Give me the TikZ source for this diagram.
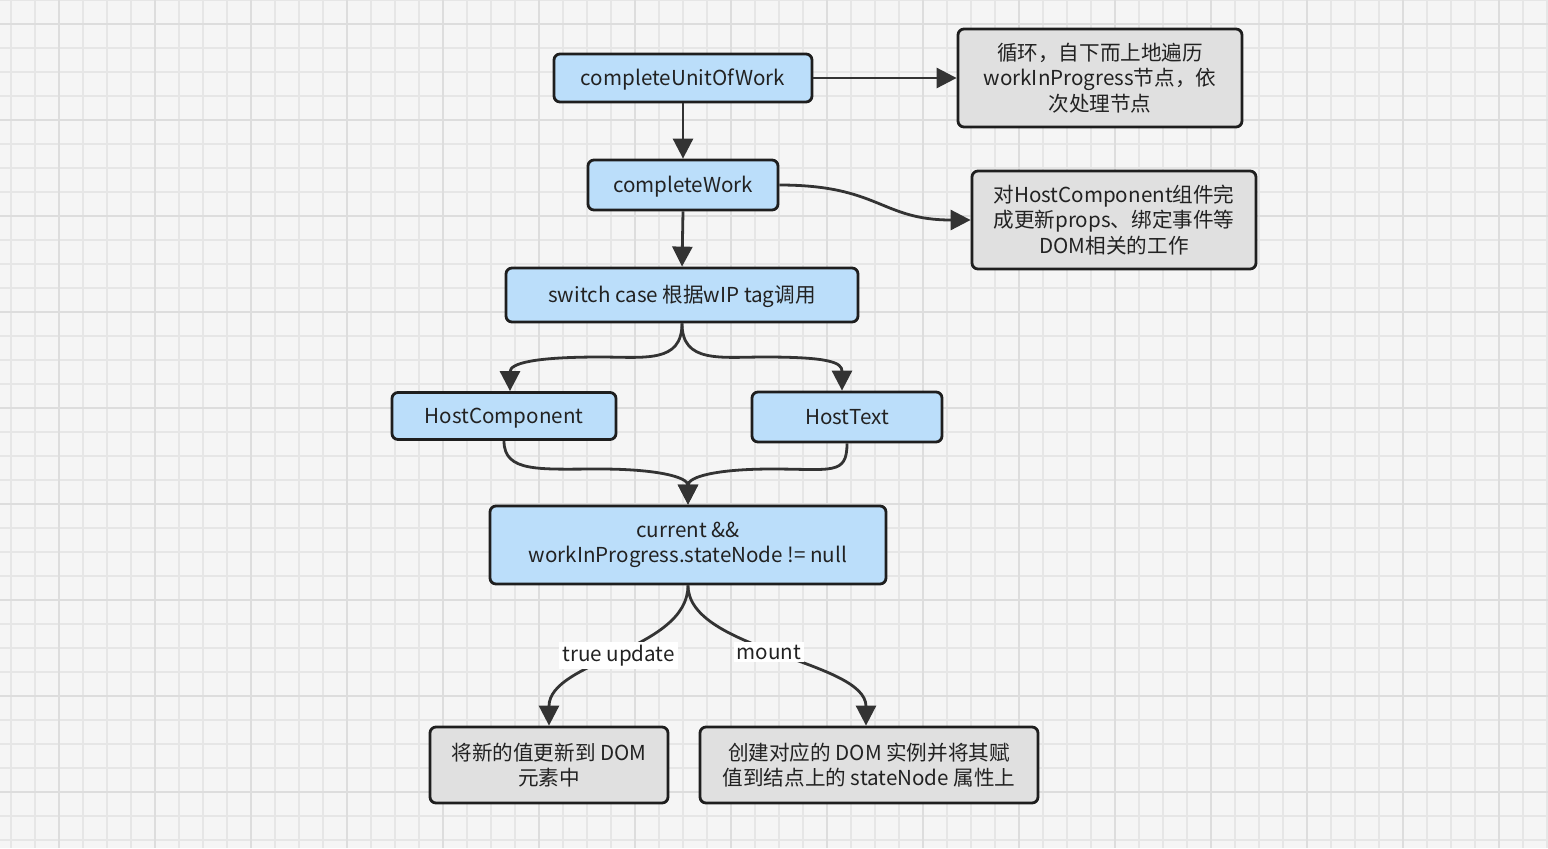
\documentclass[tikz,border=0pt]{standalone}
\usepackage{fontspec}
\setmainfont{Noto Sans CJK SC}
\usetikzlibrary{arrows.meta}
\definecolor{bg}{HTML}{F5F5F5}
\definecolor{gridc}{HTML}{E6E6E6}
\definecolor{gridm}{HTML}{DDDDDD}
\definecolor{bluef}{HTML}{BBDEFA}
\definecolor{grayf}{HTML}{E0E0E0}
\definecolor{edge}{HTML}{1E1E1E}
\definecolor{linec}{HTML}{333333}
\definecolor{txt}{HTML}{222222}
\begin{document}
\begin{tikzpicture}[x=0.5pt,y=-0.5pt,
  box/.style={draw=edge, line width=1.4pt, rounded corners=3pt, inner sep=0pt, align=center,
    font=\fontsize{10.3}{12.8}\selectfont, text=txt},
  oneline/.style={text height=9pt, text depth=1.5pt},
  bluebox/.style={box, fill=bluef},
  graybox/.style={box, fill=grayf},
  arr/.style={draw=linec, line width=1.4pt, -{Triangle[length=10pt,width=10pt]}},
  lbl/.style={fill=white, inner sep=1.5pt, font=\fontsize{10.3}{12.8}\selectfont, text=txt}]
\useasboundingbox (0,0) rectangle (1548,848);
\fill[bg] (0,0) rectangle (1548,848);
\foreach \x in {11,35,...,1547} \draw[gridc, line width=0.9pt] (\x,0) -- (\x,848);
\foreach \y in {0,24,...,848} \draw[gridc, line width=0.9pt] (0,\y) -- (1548,\y);
\foreach \x in {59,155,...,1547} \draw[gridm, line width=1pt] (\x,0) -- (\x,848);
\foreach \y in {24,120,...,848} \draw[gridm, line width=1pt] (0,\y) -- (1548,\y);

\node[bluebox, oneline, minimum width=129pt, minimum height=24pt] (cuow) at (683,78) {completeUnitOfWork};
\node[graybox, minimum width=142pt, minimum height=49pt] (g1) at (1100,78) {循环，自下而上地遍历\\workInProgress节点，依\\次处理节点};
\node[bluebox, oneline, minimum width=95pt, minimum height=25pt] (cw) at (683,185) {completeWork};
\node[graybox, minimum width=142pt, minimum height=49pt] (g2) at (1114,220) {对HostComponent组件完\\成更新props、绑定事件等\\DOM相关的工作};
\node[bluebox, oneline, minimum width=176pt, minimum height=27pt] (sw) at (682,295) {switch case 根据wIP tag调用};
\node[bluebox, oneline, minimum width=112pt, minimum height=23.5pt] (hc) at (504,416) {HostComponent};
\node[bluebox, oneline, minimum width=95pt, minimum height=25pt] (ht) at (847,417) {HostText};
\node[bluebox, minimum width=198pt, minimum height=39pt] (cur) at (688,545) {current \&\&\\workInProgress.stateNode != null};
\node[graybox, minimum width=119pt, minimum height=38pt] (lb) at (549,765) {将新的值更新到 DOM\\元素中};
\node[graybox, minimum width=169pt, minimum height=38pt] (rb) at (869,765) {创建对应的 DOM 实例并将其赋\\值到结点上的 stateNode 属性上};

\coordinate (m1) at (600,357);
\coordinate (m2) at (765,357);
\coordinate (m3) at (600,469);
\coordinate (m4) at (772,469);

\draw[arr] (cuow.east) -- (cuow.east -| g1.west);
\draw[arr] (cuow.south) -- (cw.north);
\draw[arr] (cw.east) .. controls +(100,0) and +(-90,0) .. (g2.west);
\draw[arr] (cw.south) -- (sw.north);
\draw[arr] (sw.south) .. controls +(0,40) and +(45,0) .. (m1) .. controls +(-65,0) and +(0,-28) .. ([xshift=3pt]hc.north);
\draw[arr] (sw.south) .. controls +(0,40) and +(-45,0) .. (m2) .. controls +(65,0) and +(0,-28) .. ([xshift=-2.5pt]ht.north);
\draw[arr] (hc.south) .. controls +(0,32) and +(-60,0) .. (m3) .. controls +(55,0) and +(0,-28) .. (cur.north);
\draw[arr] (ht.south) .. controls +(0,32) and +(60,0) .. (m4) .. controls +(-55,0) and +(0,-28) .. (cur.north);
\draw[arr] (cur.south) .. controls +(0,65) and +(0,-65) .. node[lbl, pos=0.5] {true update} (lb.north);
\draw[arr] (cur.south) .. controls +(0,65) and +(0,-65) .. node[lbl, pos=0.47] {mount} ([xshift=-1.5pt]rb.north);
\end{tikzpicture}
\end{document}
